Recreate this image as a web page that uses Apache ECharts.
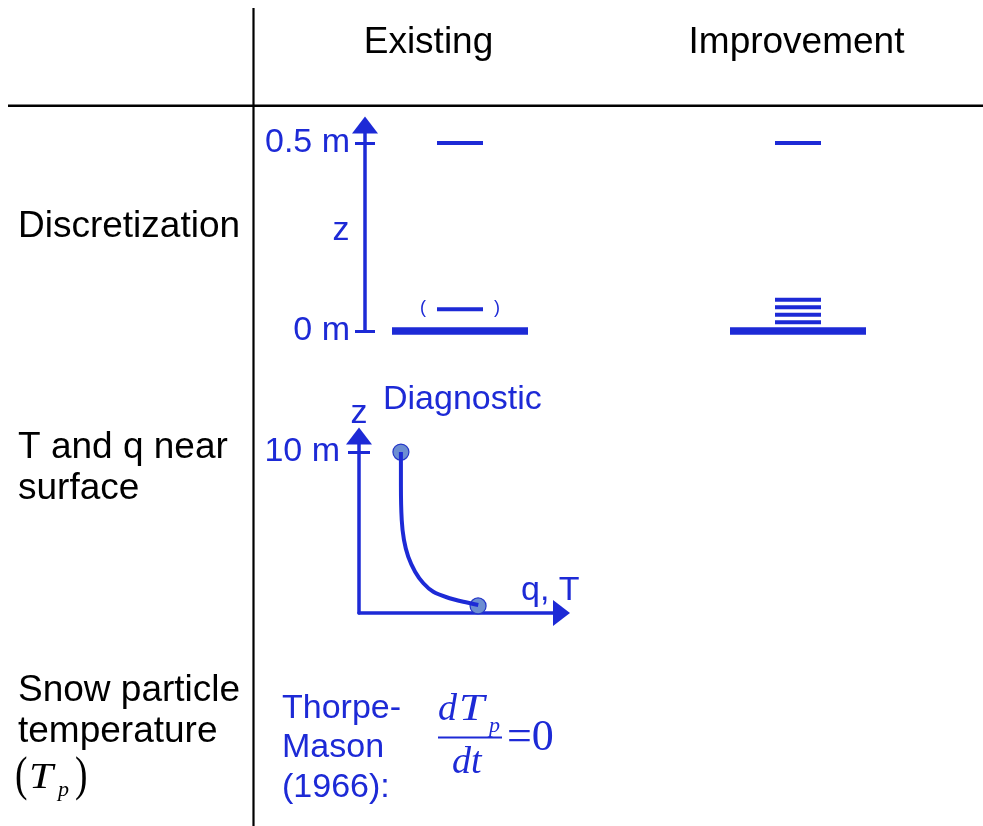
<!DOCTYPE html>
<html><head><meta charset="utf-8">
<script src="https://cdn.jsdelivr.net/npm/echarts@6/dist/echarts.min.js"></script>
<style>html,body{margin:0;padding:0;background:#fff}#c{width:983px;height:826px}</style>
</head><body><div id="c"></div>
<script>
// ---- data ----
const columns = ['Existing', 'Improvement'];
const rowLabels = [['Discretization'], ['T and q near', 'surface'], ['Snow particle', 'temperature']];
const zTicks = [0, 0.5];
const zTickLabels = ['0 m', '0.5 m'];
const existingLevels = [0, 0.5];
const existingOptionalLevels = [0.058];
const improvementLevels = [0, 0.023, 0.043, 0.063, 0.083, 0.5];
const profileTicks = [10];
const profileTickLabels = ['10 m'];
const profileQT = [2.07, 2.07, 2.11, 2.22, 2.43, 2.77, 3.18, 3.67, 4.33, 5.15, 5.89];
const profileZ = [10.0, 7.96, 5.78, 4.54, 3.50, 2.57, 1.85, 1.32, 0.98, 0.70, 0.50];
const diagnosticQT = [2.07, 5.88];
const diagnosticZ = [10.0, 0.44];
const methodLines = ['Thorpe-', 'Mason', '(1966):'];

// ---- styles ----
const BLUE = '#1d2ad6';
const SANS = "'Liberation Sans', Arial, sans-serif";
const SERIF = "'Liberation Serif', 'Times New Roman', serif";
const axisLineStyle = { show: true, lineStyle: { color: BLUE, width: 3.5 }, symbol: ['none', 'triangle'], symbolSize: [26, 17] };

const chart = echarts.init(document.getElementById('c'));

const levelData = []
  .concat(existingLevels.map(z => [0, z, 0]))
  .concat(existingOptionalLevels.map(z => [0, z, 1]))
  .concat(improvementLevels.map(z => [1, z, 0]));

function txt(t, x, y, color, font, align, extra) {
  return Object.assign({ type: 'text', x: x, y: y, style: { text: t, fill: color, font: font, align: align || 'left', verticalAlign: 'middle' } }, extra || {});
}
const blackFont = '37px ' + SANS;
const blueFont = '34px ' + SANS;

const graphics = [
  { type: 'line', shape: { x1: 253.5, y1: 8, x2: 253.5, y2: 826 }, style: { stroke: '#000', lineWidth: 2.2 } },
  { type: 'line', shape: { x1: 8, y1: 105.7, x2: 983, y2: 105.7 }, style: { stroke: '#000', lineWidth: 2.6 } },
  txt(columns[0], 428.5, 43, '#000', blackFont, 'center'),
  txt(columns[1], 796.5, 43, '#000', blackFont, 'center'),
  txt(rowLabels[0][0], 18, 227, '#000', blackFont),
  txt(rowLabels[1][0], 18, 447.5, '#000', blackFont),
  txt(rowLabels[1][1], 18, 488.5, '#000', blackFont),
  txt(rowLabels[2][0], 18, 690.5, '#000', blackFont),
  txt(rowLabels[2][1], 18, 731.5, '#000', blackFont),
  // (T_p)
  txt('(', 15, 777, '#000', '48px ' + SERIF, 'left', { scaleX: 0.78 }),
  txt('T', 29, 779, '#000', 'italic 36px ' + SERIF, 'left', { scaleX: 1.2 }),
  txt('p', 58, 790, '#000', 'italic 22px ' + SERIF),
  txt(')', 75, 777, '#000', '48px ' + SERIF, 'left', { scaleX: 0.78 }),
  // blue annotations
  txt('z', 341, 231, BLUE, blueFont, 'center'),
  txt('Diagnostic', 383, 400, BLUE, blueFont),
  txt('q, T', 521, 590.5, BLUE, blueFont),
  txt(methodLines[0], 282, 708.5, BLUE, blueFont),
  txt(methodLines[1], 282, 747.5, BLUE, blueFont),
  txt(methodLines[2], 282, 787.5, BLUE, blueFont),
  // formula dT_p/dt = 0
  txt('d', 438, 710, BLUE, 'italic 38px ' + SERIF),
  txt('T', 459, 710, BLUE, 'italic 38px ' + SERIF, 'left', { scaleX: 1.2 }),
  txt('p', 489, 726, BLUE, 'italic 22px ' + SERIF),
  { type: 'line', shape: { x1: 438, y1: 737.5, x2: 502, y2: 737.5 }, style: { stroke: BLUE, lineWidth: 2 } },
  txt('dt', 452, 763, BLUE, 'italic 38px ' + SERIF),
  txt('=0', 507, 738, BLUE, '44px ' + SERIF)
];

const option = {
  animation: false,
  backgroundColor: '#fff',
  grid: [
    { left: 291, top: 125, width: 676, height: 206 },
    { left: 359, top: 436, width: 202.5, height: 177 }
  ],
  xAxis: [
    { gridIndex: 0, type: 'category', data: columns, show: false },
    { gridIndex: 1, type: 'value', min: 0, max: 10, axisLine: axisLineStyle, axisTick: { show: false }, axisLabel: { show: false }, splitLine: { show: false } }
  ],
  yAxis: [
    {
      gridIndex: 0, type: 'value', min: 0, max: 0.548, offset: -74, position: 'left',
      axisLine: axisLineStyle,
      axisTick: { show: true, customValues: zTicks, length: 10, lineStyle: { color: BLUE, width: 3 } },
      axisLabel: { customValues: zTicks, formatter: v => zTickLabels[zTicks.indexOf(v)], color: BLUE, fontSize: 34, fontFamily: SANS, margin: 15 },
      splitLine: { show: false }
    },
    {
      gridIndex: 0, type: 'value', min: 0, max: 0.548, offset: -74, position: 'left',
      axisLine: { show: false },
      axisTick: { show: true, inside: true, customValues: zTicks, length: 10, lineStyle: { color: BLUE, width: 3 } },
      axisLabel: { show: false }, splitLine: { show: false }
    },
    {
      gridIndex: 1, type: 'value', min: 0, max: 11, position: 'left',
      axisLine: axisLineStyle,
      axisTick: { show: true, customValues: profileTicks, length: 11, lineStyle: { color: BLUE, width: 3 } },
      axisLabel: { customValues: profileTicks, formatter: v => profileTickLabels[profileTicks.indexOf(v)], color: BLUE, fontSize: 34, fontFamily: SANS, margin: 19 },
      splitLine: { show: false },
      name: 'z', nameLocation: 'end', nameGap: 22,
      nameTextStyle: { color: BLUE, fontSize: 34, fontFamily: SANS, align: 'center', verticalAlign: 'middle' }
    },
    {
      gridIndex: 1, type: 'value', min: 0, max: 11, position: 'left',
      axisLine: { show: false },
      axisTick: { show: true, inside: true, customValues: profileTicks, length: 11, lineStyle: { color: BLUE, width: 3 } },
      axisLabel: { show: false }, splitLine: { show: false }
    }
  ],
  series: [
    {
      type: 'custom', xAxisIndex: 0, yAxisIndex: 0, clip: false,
      data: levelData,
      renderItem: function (params, api) {
        const z = api.value(1);
        const p = api.coord([api.value(0), z]);
        const surface = z === 0;
        const half = surface ? 68 : 23;
        const children = [{
          type: 'line',
          shape: { x1: p[0] - half, y1: p[1], x2: p[0] + half, y2: p[1] },
          style: { stroke: BLUE, lineWidth: surface ? 7.5 : 4 }
        }];
        if (api.value(2) === 1) {
          children.push({ type: 'text', style: { text: '(', x: p[0] - 37, y: p[1] - 1, fill: BLUE, font: '18px ' + SANS, align: 'center', verticalAlign: 'middle' } });
          children.push({ type: 'text', style: { text: ')', x: p[0] + 37, y: p[1] - 1, fill: BLUE, font: '18px ' + SANS, align: 'center', verticalAlign: 'middle' } });
        }
        return { type: 'group', children: children };
      }
    },
    {
      type: 'scatter', xAxisIndex: 1, yAxisIndex: 2, z: 1,
      data: diagnosticQT.map((x, i) => [x, diagnosticZ[i]]),
      symbolSize: 16,
      itemStyle: { color: '#6d8ed2', borderColor: '#2436c8', borderWidth: 1.2, opacity: 1 }
    },
    {
      type: 'line', xAxisIndex: 1, yAxisIndex: 2, z: 3,
      data: profileQT.map((x, i) => [x, profileZ[i]]),
      smooth: 0.3, showSymbol: false, symbol: 'none',
      lineStyle: { color: BLUE, width: 4 }
    }
  ],
  graphic: graphics
};
chart.setOption(option);
</script>
</body></html>
